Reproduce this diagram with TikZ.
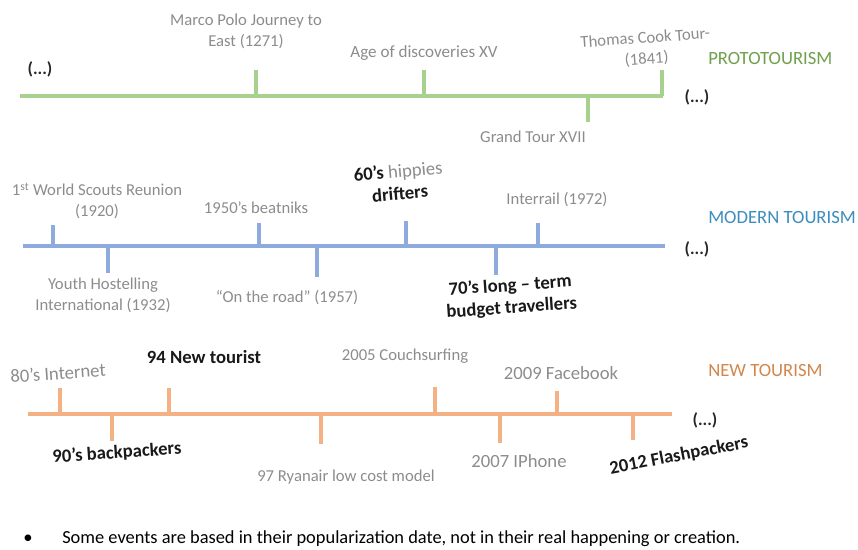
\documentclass[tikz,border=0pt]{standalone}
\usepackage{fontspec}
\setmainfont{Carlito}
\definecolor{protoline}{HTML}{A9D18E}
\definecolor{prototext}{HTML}{6FA04A}
\definecolor{modernline}{HTML}{8FAADC}
\definecolor{moderntext}{HTML}{3C8CBE}
\definecolor{newline}{HTML}{F4B183}
\definecolor{newtext}{HTML}{D2864A}
\definecolor{eventgrey}{HTML}{8C8C8C}
\tikzset{event/.style={text=eventgrey,font=\fontsize{12.5}{15.75}\selectfont,align=center,inner sep=0pt},
  bigevent/.style={event,font=\fontsize{14}{16}\selectfont},
  keyevent/.style={text=black!90,font=\bfseries\fontsize{14}{16.5}\selectfont,align=center,inner sep=0pt},
  era/.style={font=\fontsize{14}{16}\selectfont,inner sep=0pt,anchor=west},
  etc/.style={text=black!85,font=\bfseries\fontsize{13}{15}\selectfont,inner sep=0pt},
  axis/.style={line width=3.6pt},
  tick/.style={line width=2.3pt}}
\begin{document}
\begin{tikzpicture}[x=0.75pt,y=-0.75pt]
  \useasboundingbox (0,0) rectangle (858,550);
  % prototourism
  \draw[axis,protoline] (20,96) -- (663,96);
  \foreach \x/\a in {256/70,424/70,662/70,588/122}
    \draw[tick,protoline] (\x,\a) -- (\x,96);
  \node[etc] (protoL) at (40,69) {(...)};
  \node[etc] (protoR) at (697,97) {(...)};
  \node[era,text=prototext] (proto) at (708,59) {PROTOTOURISM};
  \node[event] (polo) at (246,31) {Marco Polo Journey to\\East (1271)};
  \node[event,font=\fontsize{12.8}{15}\selectfont] (discov) at (424,53) {Age of discoveries XV};
  \node[event,rotate=4] (cook) at (646,49) {Thomas Cook Tour-\\(1841)};
  \node[event] (grand) at (533,137) {Grand Tour XVII};

  % modern tourism
  \draw[axis,modernline] (23,246) -- (665,246);
  \foreach \x/\a in {53/225,259/223,406/221,538/223,108/273,317/277,496/275}
    \draw[tick,modernline] (\x,\a) -- (\x,246);
  \node[etc] (modernR) at (697,249) {(...)};
  \node[era,text=moderntext] (modern) at (708,218) {MODERN TOURISM};
  \node[event] (scouts) at (97,201) {1\textsuperscript{st} World Scouts Reunion\\(1920)};
  \node[event] (beat) at (256,208) {1950’s beatniks};
  \node[keyevent,rotate=5] (hippies) at (399,182)
    {60’s \textcolor{eventgrey}{\mdseries hippies}\\drifters};
  \node[event] (interrail) at (557,200) {Interrail (1972)};
  \node[event] (youth) at (103,295) {Youth Hostelling\\International (1932)};
  \node[event] (road) at (287,298) {“On the road” (1957)};
  \node[keyevent,rotate=4] (longterm) at (511,297) {70’s long – term\\budget travellers};

  % new tourism
  \draw[axis,newline] (28,414) -- (672,414);
  \foreach \x/\a in {60/388,169/388,435/387,557/391,112/441,321/444,500/443,633/440}
    \draw[tick,newline] (\x,\a) -- (\x,414);
  \node[etc] (newR) at (705,420) {(...)};
  \node[era,text=newtext] (newt) at (708,371) {NEW TOURISM};
  \node[bigevent,rotate=4] (internet) at (58,373) {80’s Internet};
  \node[keyevent] (newtourist) at (204,357) {94 New tourist};
  \node[event] (couch) at (405,356) {2005 Couchsurfing};
  \node[bigevent] (facebook) at (561,373) {2009 Facebook};
  \node[keyevent,rotate=4] (backpack) at (117,453) {90’s backpackers};
  \node[event] (ryanair) at (346,477) {97 Ryanair low cost model};
  \node[bigevent] (iphone) at (519,461) {2007 IPhone};
  \node[keyevent,rotate=11] (flash) at (679,456) {2012 Flashpackers};

  % note
  \node[font=\fontsize{14}{16}\selectfont,inner sep=0pt] (bullet) at (28,539) {•};
  \node[font=\fontsize{13.8}{16}\selectfont,inner sep=0pt,anchor=west] (note) at (62,539)
    {Some events are based in their popularization date, not in their real happening or creation.};
\end{tikzpicture}
\end{document}
